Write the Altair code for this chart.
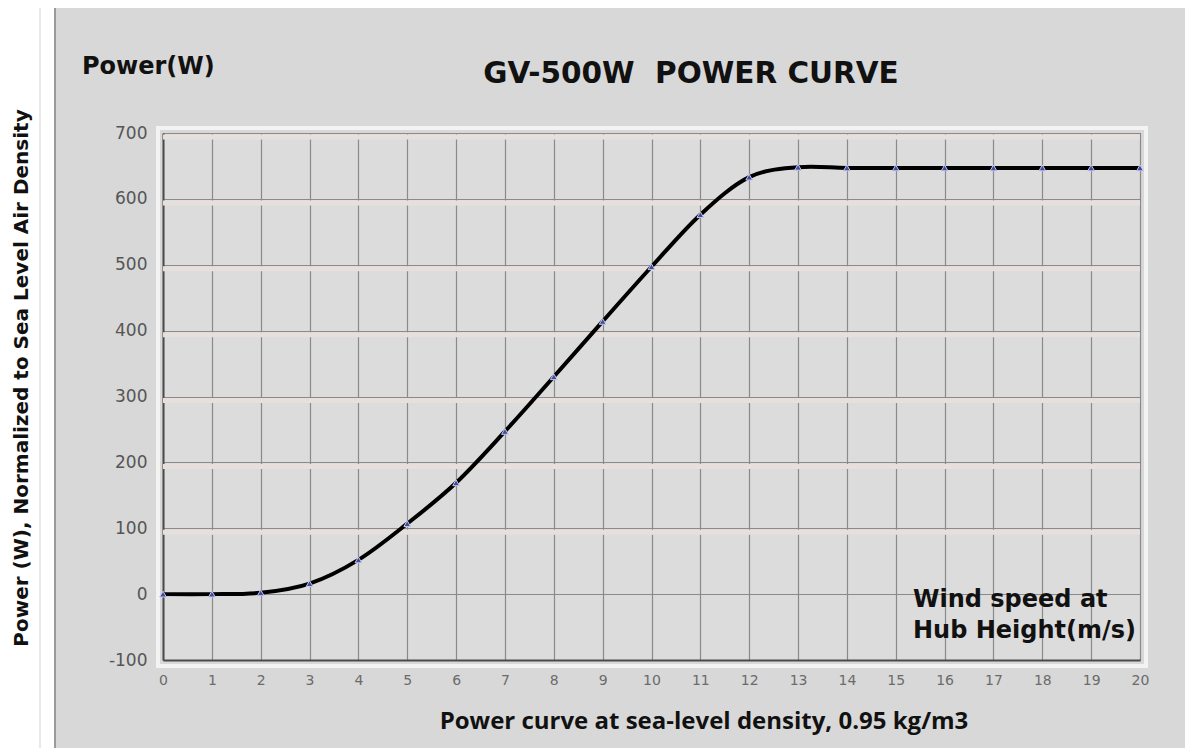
import altair as alt
import pandas as pd

# ---- data ----
wind_speed = list(range(0, 21))
power_w = [0, 0, 2, 16, 52, 107, 169, 247, 330, 414, 497, 576, 633, 648,
           647, 647, 647, 647, 647, 647, 647]
x_ticks = list(range(0, 21))
y_ticks = [-100, 0, 100, 200, 300, 400, 500, 600, 700]
band_ticks = [100, 200, 300, 400, 500, 600, 700]

chart_title = "GV-500W\u00a0 POWER CURVE"
corner_label = "Power(W)"
y_title = "Power (W), Normalized to Sea Level Air Density"
x_title = "Power curve at sea-level density, 0.95 kg/m3"
note_lines = ["Wind speed at", "Hub Height(m/s)"]

W, H = 977, 527
PAD = {"left": 155, "top": 125, "right": 45, "bottom": 88}

df = pd.DataFrame({"speed": wind_speed, "power": power_w})
one = pd.DataFrame({"a": [0]})

xs = alt.Scale(domain=[0, 20], nice=False, zero=False)
ys = alt.Scale(domain=[-100, 700], nice=False, zero=False)

hyphen_expr = "replace(datum.label, '\u2212', '-')"

x_axis = alt.Axis(values=x_ticks, title=None, grid=True, gridColor="#8a8a8a",
                  gridWidth=1.2, domainColor="#4a4a4a", domainWidth=2,
                  ticks=False, labelFont="DejaVu Sans", labelFontSize=14,
                  labelColor="#6b6b6b", labelPadding=13, labelAngle=0,
                  format="d", labelOverlap=False, labelFlush=False)
y_axis = alt.Axis(values=y_ticks, title=None, grid=True, gridColor="#8a8a8a",
                  gridWidth=1.2, domainColor="#4a4a4a", domainWidth=2,
                  ticks=False, labelFont="DejaVu Sans", labelFontSize=17,
                  labelColor="#555555", labelPadding=16, format="d",
                  labelOverlap=False, labelFlush=False, labelExpr=hyphen_expr)

# decorative white strip on the left (spreadsheet area)
strip = alt.Chart(one).mark_rect(color="white").encode(
    x=alt.value(-PAD["left"]), x2=alt.value(-108),
    y=alt.value(-PAD["top"]), y2=alt.value(H + PAD["bottom"]))
strip_line = alt.Chart(one).mark_rule(color="#d2d2d2", strokeWidth=1).encode(
    x=alt.value(-123), y=alt.value(-PAD["top"]), y2=alt.value(H + PAD["bottom"]))
panel_edge = alt.Chart(one).mark_rule(color="#9a9a9a", strokeWidth=2).encode(
    x=alt.value(-108), y=alt.value(-PAD["top"]), y2=alt.value(H + PAD["bottom"]))

# white bevel around the plot area
bevel = alt.Chart(one).mark_rect(filled=False, stroke="#f3f3f3", strokeWidth=4).encode(
    x=alt.value(-5), x2=alt.value(W + 6), y=alt.value(-5), y2=alt.value(H + 6))

# light bands under the horizontal gridlines
bands = alt.Chart(pd.DataFrame({"v": band_ticks})).mark_rule(
    color="#e6dfdc", strokeWidth=5, yOffset=4).encode(
    y=alt.Y("v:Q", scale=ys, axis=y_axis), x=alt.value(0), x2=alt.value(W))

line = alt.Chart(df).mark_line(color="black", strokeWidth=4,
                               interpolate="cardinal").encode(
    x=alt.X("speed:Q", scale=xs, axis=x_axis),
    y=alt.Y("power:Q", scale=ys, axis=y_axis))

points = alt.Chart(df).mark_point(shape="triangle-up", filled=True, size=45,
                                  fill="#3d4c9e", stroke="#c5caf0",
                                  strokeWidth=1, opacity=1).encode(
    x=alt.X("speed:Q", scale=xs), y=alt.Y("power:Q", scale=ys))

def label(text, x, y, size, font="DejaVu Sans", weight="bold", align="left",
          angle=0, baseline="alphabetic", color="#111111", line_height=None):
    kw = dict(text=text, font=font, fontSize=size, fontWeight=weight,
              align=align, baseline=baseline, color=color)
    if angle:
        kw["angle"] = angle
    if line_height:
        kw["lineHeight"] = line_height
    return alt.Chart(one).mark_text(**kw).encode(x=alt.value(x), y=alt.value(y))

t_title = label(chart_title, 528, -50, 29.5, align="center")
t_corner = label(corner_label, -81, -59, 24)
t_ytitle = label(y_title, -141, 245, 20, align="center", angle=270,
                 baseline="middle")
t_xtitle = label(x_title, 541, 596, 24, font="Open Sans", align="center")
t_note = label(note_lines, 750, 474, 24, line_height=31)

chart = alt.layer(
    strip, strip_line, panel_edge, bevel, bands, line, points,
    t_title, t_corner, t_ytitle, t_xtitle, t_note
).properties(
    width=W, height=H,
    padding=PAD,
    autosize=alt.AutoSizeParams(type="none"),
    background="#d8d8d8",
).configure_view(
    fill="#dcdcdc", stroke="#555555", strokeWidth=1
)

chart.save("out.html", embed_options={"renderer": "svg", "actions": False})
